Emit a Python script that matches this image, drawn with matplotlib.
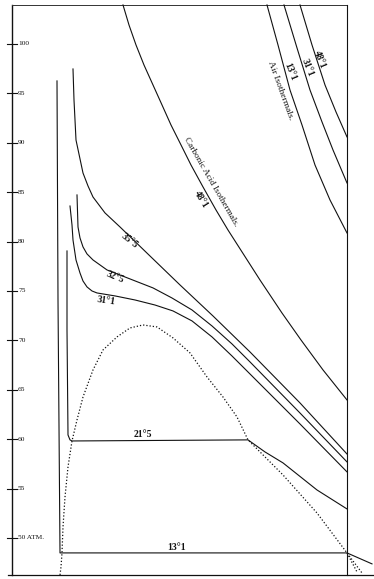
import matplotlib.pyplot as plt

# Andrews' isothermals of carbonic acid (and air) -- pressure in atmospheres,
# volume in arbitrary units
pressure_ticks = [50, 55, 60, 65, 70, 75, 80, 85, 90, 95, 100]
tick_labels = ['50 ATM.', '55', '60', '65', '70', '75', '80', '85', '90', '95', '100']

# carbonic acid isothermals
vol_13_1 = [45, 46, 48, 335, 360]
p_13_1 = [96.26, 74.09, 48.49, 48.49, 47.38]

vol_21_5 = [55, 55, 56, 58, 60, 236, 253, 271, 305, 335]
p_21_5 = [79.05, 71.06, 60.43, 59.93, 59.82, 59.93, 58.71, 57.60, 54.86, 52.94]

vol_31_1 = [58, 60, 61, 64, 68, 71, 75, 80, 85, 103, 123, 143, 161, 180, 200,
            220, 238, 288, 335]
p_31_1 = [83.60, 81.68, 80.16, 78.14, 76.82, 76.01, 75.41, 75.00, 74.80, 74.50,
          74.09, 73.58, 72.98, 71.97, 70.35, 68.42, 66.60, 61.54, 56.69]

vol_32_5 = [65, 66, 68, 71, 75, 81, 95, 118, 141, 160, 180, 200, 220, 238, 288, 335]
p_32_5 = [84.72, 81.48, 80.37, 79.46, 78.75, 78.14, 77.13, 76.22, 75.31, 74.29,
          73.08, 71.46, 69.64, 67.82, 62.65, 57.70]

vol_35_5 = [61, 62, 63, 64, 71, 76, 81, 93, 108, 138, 168, 201, 238, 288, 335]
p_35_5 = [97.47, 94.33, 92.31, 90.28, 86.94, 85.63, 84.51, 82.90, 81.48, 78.54,
          75.61, 72.47, 68.83, 63.67, 58.50]

vol_48_1 = [111, 117, 124, 132, 141, 150, 159, 169, 179, 191, 204, 216, 232, 248,
            270, 289, 311, 335]
p_48_1 = [103.95, 101.92, 99.90, 97.87, 95.85, 93.83, 91.80, 89.78, 87.75, 85.53,
          83.20, 81.17, 78.64, 76.11, 72.77, 70.04, 67.01, 63.97]

# air isothermals
vol_air_13 = [255, 266, 278, 290, 303, 318, 335]
p_air_13 = [103.95, 99.90, 95.34, 91.80, 87.75, 84.21, 80.87]
vol_air_31 = [272, 285, 298, 310, 321, 335]
p_air_31 = [103.95, 99.60, 95.34, 92.11, 89.27, 85.93]
vol_air_48 = [288, 300, 313, 324, 335]
p_air_48 = [103.95, 99.90, 95.85, 93.12, 90.59]

# boundary of the liquid/vapour region (dotted)
vol_dome = [48, 49, 50, 51, 53, 56, 60, 65, 71, 81, 91, 105, 118, 131, 145, 161,
            178, 195, 211, 225, 236, 271, 305, 335, 350]
p_dome = [46.26, 47.07, 48.49, 51.12, 54.15, 57.19, 59.82, 61.95, 64.27, 67.01,
          69.03, 70.35, 71.26, 71.56, 71.36, 70.25, 68.73, 66.30, 64.27, 62.25,
          59.93, 56.38, 52.53, 48.49, 46.46]
vol_dome_tail = [335, 345]
p_dome_tail = [48.49, 46.56]

p_top, p_bottom = 103.95, 46.26
v_right = 335

fig = plt.figure(figsize=(3.74, 5.79), dpi=100)
ax = fig.add_axes([0, 0, 1, 1])
ax.set_xlim(-12, 362)
ax.set_ylim(45.85, 104.45)
ax.axis('off')

ink = '#111111'
lw = 0.8
serif = 'Liberation Serif'

# frame
ax.plot([0, 0], [p_bottom, p_top], color=ink, lw=1.0)
ax.plot([0, v_right], [p_top, p_top], color='#333333', lw=0.7)
ax.plot([v_right, v_right], [p_top, p_bottom], color=ink, lw=0.8)
ax.plot([-4, 361], [p_bottom, p_bottom], color=ink, lw=0.9)

for p, lab in zip(pressure_ticks, tick_labels):
    ax.plot([-5, 5], [p, p], color=ink, lw=0.8)
    ax.text(6, p, lab, fontsize=5.3, family=serif, va='center', ha='left', color=ink)

# curves
for v, p in [(vol_13_1, p_13_1), (vol_21_5, p_21_5), (vol_31_1, p_31_1),
             (vol_32_5, p_32_5), (vol_35_5, p_35_5), (vol_48_1, p_48_1),
             (vol_air_13, p_air_13), (vol_air_31, p_air_31), (vol_air_48, p_air_48)]:
    ax.plot(v, p, color=ink, lw=lw, solid_joinstyle='round')

ax.plot(vol_dome, p_dome, color=ink, lw=0.9, linestyle=(0, (1, 1.6)))
ax.plot(vol_dome_tail, p_dome_tail, color=ink, lw=0.9, linestyle=(0, (1, 1.6)))

# labels
num = dict(family=serif, color=ink, fontsize=7, fontweight='bold')
txt = dict(rotation_mode='anchor', ha='center', va='center')
ax.text(131, 60.05, '21°5', ha='center', va='bottom', **num)
ax.text(165, 48.6, '13°1', ha='center', va='bottom', **num)
ax.text(94, 74.0, '31°1', rotation=-8, **num, **txt)
ax.text(103, 76.4, '32°5', rotation=-22, **num, **txt)
ax.text(117, 80.1, '35°5', rotation=-38, **num, **txt)
ax.text(189, 84.21, '48°1', rotation=-58, **num, **txt)
ax.text(199, 86.03, 'Carbonic Acid Isothermals.', fontsize=6.6, family=serif,
        color=ink, rotation=-60, **txt)

ax.text(269, 95.34, 'Air Isothermals.', fontsize=6.8, family=serif, color=ink,
        rotation=-70, **txt)
ax.text(278, 97.17, '13°1', rotation=-68, **num, **txt)
ax.text(295, 97.57, '31°1', rotation=-68, **num, **txt)
ax.text(308, 98.38, '48°1', rotation=-68, **num, **txt)

fig.savefig('out.png', dpi=100, facecolor='white')
